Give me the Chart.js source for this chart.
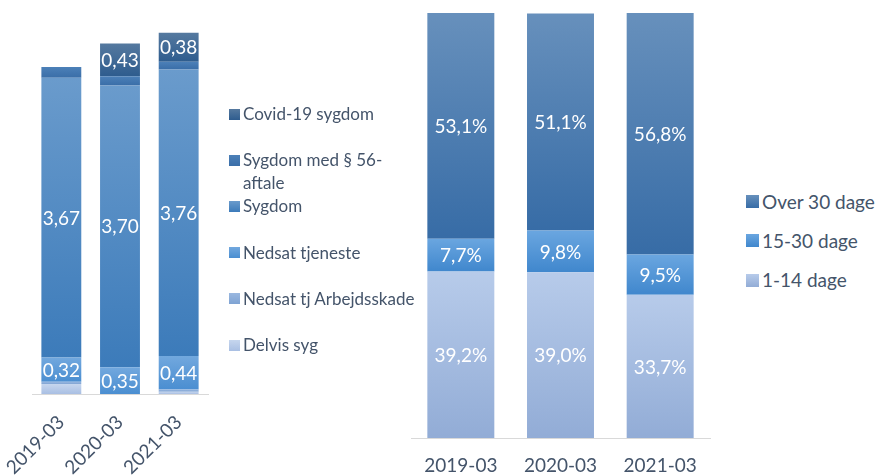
<!DOCTYPE html>
<html><head><meta charset="utf-8">
<script src="https://cdn.jsdelivr.net/npm/chart.js@4"></script>
<style>
html,body{margin:0;padding:0;background:#fff;}
body{width:879px;height:476px;position:relative;overflow:hidden;font-family:Lato,sans-serif;color:#44546A;}
#w1{position:absolute;left:0;top:0;width:222px;height:476px;}
#w2{position:absolute;left:395px;top:0;width:330px;height:476px;}
.lg{position:absolute;white-space:pre-line;line-height:23px;}
.sw{position:absolute;}
</style></head>
<body>
<div id="w1"><canvas id="c1"></canvas></div>
<div id="w2"><canvas id="c2"></canvas></div>
<div id="legends"></div>
<script>
// ---- data ----
const categories = ['2019-03', '2020-03', '2021-03'];

// left chart: average absence (stacked), bottom to top
const delvisSyg            = [0.13, 0.00, 0.03];
const nedsatTjArbejdsskade = [0.03, 0.00, 0.03];
const nedsatTjeneste       = [0.32, 0.35, 0.44];
const sygdom               = [3.67, 3.70, 3.76];
const sygdomMed56          = [0.14, 0.12, 0.10];
const covid19Sygdom        = [0.00, 0.43, 0.38];
const leftSeriesNames = ['Delvis syg', 'Nedsat tj Arbejdsskade', 'Nedsat tjeneste', 'Sygdom', 'Sygdom med § 56-\naftale', 'Covid-19 sygdom'];

// right chart: share by duration (%), bottom to top
const dage1til14  = [39.2, 39.0, 33.7];
const dage15til30 = [7.7, 9.8, 9.5];
const over30dage  = [53.1, 51.1, 56.8];
const rightSeriesNames = ['1-14 dage', '15-30 dage', 'Over 30 dage'];

// ---- styling helpers ----
const TXT = '#44546A';
function segGrad(top, bottom) {
  return function (ctx) {
    const chart = ctx.chart;
    const ys = chart.scales && chart.scales.y;
    if (!ys || ctx.type !== 'data') return bottom;
    const ds = chart.data.datasets;
    let start = 0;
    for (let i = 0; i < ctx.datasetIndex; i++) start += ds[i].data[ctx.dataIndex] || 0;
    const end = start + (ds[ctx.datasetIndex].data[ctx.dataIndex] || 0);
    const y0 = ys.getPixelForValue(end), y1 = ys.getPixelForValue(start);
    if (!isFinite(y0) || !isFinite(y1) || Math.abs(y1 - y0) < 0.5) return bottom;
    const g = chart.ctx.createLinearGradient(0, y0, 0, y1);
    g.addColorStop(0, top); g.addColorStop(1, bottom);
    return g;
  };
}
const valueLabels = {
  id: 'valueLabels',
  afterDatasetsDraw(chart, args, opts) {
    const c = chart.ctx; c.save();
    c.font = opts.font; c.fillStyle = '#ffffff'; c.textAlign = 'center'; c.textBaseline = 'middle';
    chart.data.datasets.forEach((ds, di) => {
      if (!ds.showValues) return;
      chart.getDatasetMeta(di).data.forEach((el, i) => {
        const v = ds.data[i]; if (!v) return;
        c.fillText(opts.format(v), el.x, (el.y + el.base) / 2 + 1);
      });
    });
    c.restore();
  }
};

const leftColors = [
  ['#c6d6ee', '#a9bfe3'],
  ['#9ab8e0', '#7fa3d3'],
  ['#72a8de', '#4a8ed1'],
  ['#6a9bcc', '#3c7bba'],
  ['#4c80b8', '#3a6ea8'],
  ['#55799f', '#2e5c8e']
];
const rightColors = [
  ['#b7cbea', '#92acd6'],
  ['#6aa6e0', '#4087cd'],
  ['#6790bc', '#376ca6']
];
const leftData = [delvisSyg, nedsatTjArbejdsskade, nedsatTjeneste, sygdom, sygdomMed56, covid19Sygdom];
const leftShow = [false, false, true, true, false, true];
const rightData = [dage1til14, dage15til30, over30dage];

function fixAxis(h) {
  return function (s) { s.paddingLeft = 0; s.paddingRight = 0; s.height = h; };
}

new Chart(document.getElementById('c1'), {
  type: 'bar',
  data: {
    labels: categories,
    datasets: leftData.map((d, i) => ({
      label: leftSeriesNames[i].replace('\n', ''), data: d, showValues: leftShow[i],
      backgroundColor: segGrad(leftColors[i][0], leftColors[i][1]),
      borderWidth: 0, barPercentage: 0.68, categoryPercentage: 1
    }))
  },
  plugins: [valueLabels],
  options: {
    responsive: true, maintainAspectRatio: false, animation: false,
    layout: { padding: { left: 32, right: 14, top: 13, bottom: 0 } },
    plugins: { legend: { display: false }, tooltip: { enabled: false },
      valueLabels: { font: '19px Lato', format: v => v.toFixed(2).replace('.', ',') } },
    scales: {
      x: { stacked: true, afterFit: fixAxis(82),
        grid: { display: false, drawTicks: false },
        border: { color: '#d9d9d9', width: 1 },
        ticks: { color: TXT, font: { family: 'Lato', size: 19 }, minRotation: 45, maxRotation: 45, padding: 17 } },
      y: { stacked: true, display: false, min: 0, max: 5 }
    }
  }
});

new Chart(document.getElementById('c2'), {
  type: 'bar',
  data: {
    labels: categories,
    datasets: rightData.map((d, i) => ({
      label: rightSeriesNames[i], data: d, showValues: true,
      backgroundColor: segGrad(rightColors[i][0], rightColors[i][1]),
      borderWidth: 0, barPercentage: 0.672, categoryPercentage: 1
    }))
  },
  plugins: [valueLabels],
  options: {
    responsive: true, maintainAspectRatio: false, animation: false,
    layout: { padding: { left: 16, right: 15, top: 13, bottom: 0 } },
    plugins: { legend: { display: false }, tooltip: { enabled: false },
      valueLabels: { font: '19px Lato', format: v => v.toFixed(1).replace('.', ',') + '%' } },
    scales: {
      x: { stacked: true, afterFit: fixAxis(38),
        grid: { display: false, drawTicks: false },
        border: { color: '#d9d9d9', width: 1 },
        ticks: { color: TXT, font: { family: 'Lato', size: 19 }, padding: 16, maxRotation: 0 } },
      y: { stacked: true, display: false, min: 0, max: 100 }
    }
  }
});

// ---- legends (text from the series name arrays) ----
const lg = document.getElementById('legends');
function addLegend(names, colors, x, y0, pitch, sw, font) {
  for (let k = names.length - 1, row = 0; k >= 0; k--, row++) {
    const cy = y0 + row * pitch;
    const s = document.createElement('div');
    s.className = 'sw';
    s.style.cssText = `left:${x}px;top:${cy - sw / 2}px;width:${sw}px;height:${sw}px;background:linear-gradient(${colors[k][0]},${colors[k][1]});`;
    lg.appendChild(s);
    const t = document.createElement('div');
    t.className = 'lg';
    t.style.cssText = `left:${x + sw + 3}px;top:${cy - 12}px;font-size:${font}px;`;
    t.textContent = names[k];
    lg.appendChild(t);
  }
}
addLegend(leftSeriesNames, leftColors, 229, 114, 46.2, 11, 17);
addLegend(rightSeriesNames, rightColors, 746, 201.5, 39.3, 13, 19);
</script>
</body></html>
